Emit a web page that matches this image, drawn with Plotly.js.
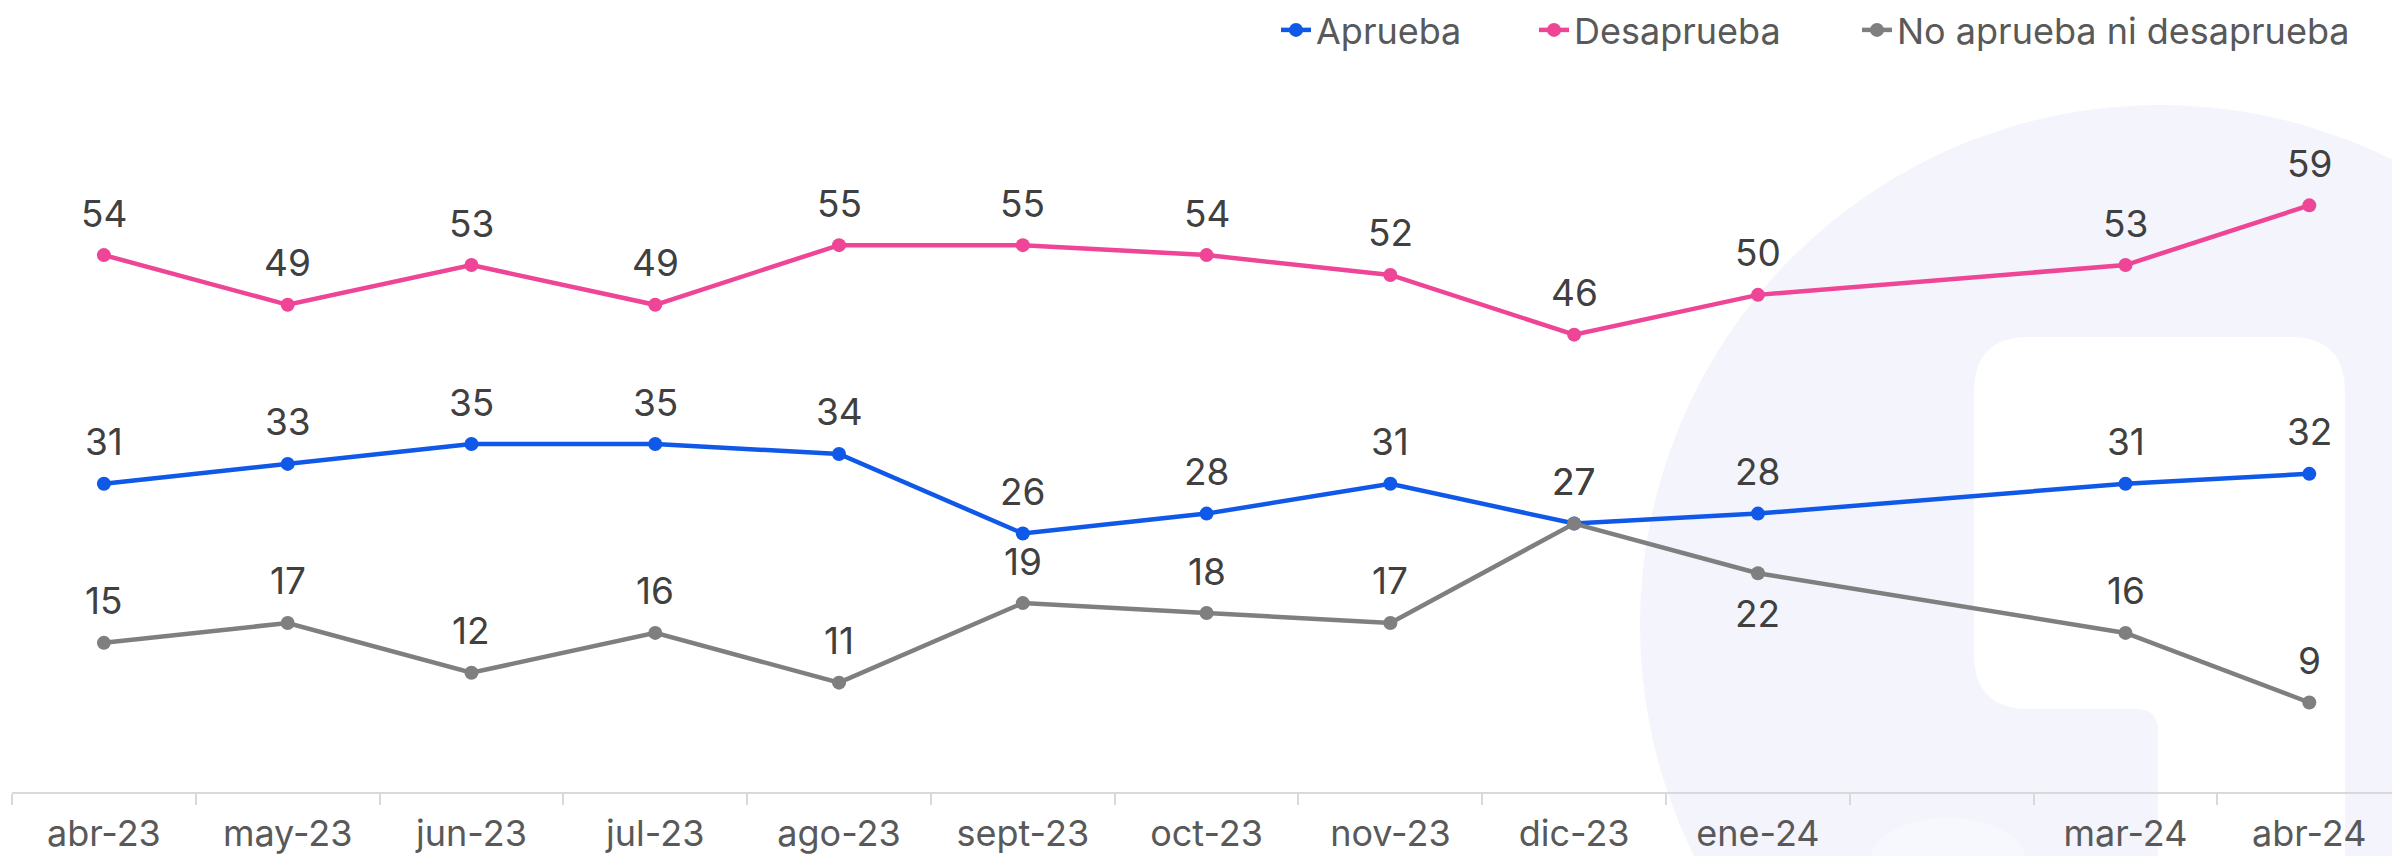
<!DOCTYPE html>
<html>
<head>
<meta charset="utf-8">
<script src="https://cdn.plot.ly/plotly-3.0.1.min.js"></script>
<style>html,body{margin:0;padding:0;background:#fff;}#chart{width:2392px;height:856px;}</style>
</head>
<body>
<div id="chart"></div>
<script>
// ---- data ----
const months = ["abr-23","may-23","jun-23","jul-23","ago-23","sept-23","oct-23","nov-23","dic-23","ene-24","feb-24","mar-24","abr-24"];
const tickLabels = ["abr-23","may-23","jun-23","jul-23","ago-23","sept-23","oct-23","nov-23","dic-23","ene-24","","mar-24","abr-24"];
const aprueba = [31,33,35,35,34,26,28,31,27,28,null,31,32];
const desaprueba = [54,49,53,49,55,55,54,52,46,50,null,53,59];
const neutral = [15,17,12,16,11,19,18,17,27,22,null,16,9];
const seriesNames = ["Aprueba","Desaprueba","No aprueba ni desaprueba"];
const colors = ["#0f58e8","#ee4596","#7f7f7f"];

// ---- layout helpers (pixels -> paper) ----
const W = 2392, H = 856, ML = 12, MR = 0, MT = 96, MB = 64;
const PW = W - ML - MR, PH = H - MT - MB;
const px = v => (v - ML) / PW;
const py = v => (H - MB - v) / PH;

const FONT = "Inter, 'Open Sans', sans-serif";
const LABEL = {family: FONT, size: 37, color: "#404040"};

function trace(name, y, color, legendId){
  return {
    type: "scatter", mode: "lines+markers", name: name,
    x: months, y: y, connectgaps: true, legend: legendId,
    line: {color: color, width: 4.5},
    marker: {color: color, size: 14},
    cliponaxis: false, hoverinfo: "skip"
  };
}

const data = [
  trace(seriesNames[0], aprueba, colors[0], "legend"),
  trace(seriesNames[1], desaprueba, colors[1], "legend2"),
  trace(seriesNames[2], neutral, colors[2], "legend3")
];

// data labels as annotations anchored to the data values
const annotations = [];
[[aprueba, false], [desaprueba, false], [neutral, true]].forEach(([arr, isNeutral]) => {
  arr.forEach((v, i) => {
    if (v === null) return;
    const below = isNeutral && months[i] === "ene-24";
    annotations.push({
      x: months[i], y: v, xref: "x", yref: "y", text: String(v), showarrow: false,
      yanchor: "middle", xanchor: "center", yshift: below ? -40 : 42, font: LABEL
    });
  });
});

// watermark white path
const R = 55, rr = 22;
const P = (x,y) => px(x).toFixed(5) + "," + py(y).toFixed(5);
const whitePath =
  "M" + P(1974+R,337) + " L" + P(2345-R,337) + " Q" + P(2345,337) + " " + P(2345,337+R) +
  " L" + P(2345,900) + " L" + P(2158,900) + " L" + P(2158,709+rr) +
  " Q" + P(2158,709) + " " + P(2158-rr,709) + " L" + P(1974+R,709) +
  " Q" + P(1974,709) + " " + P(1974,709-R) + " L" + P(1974,337+R) +
  " Q" + P(1974,337) + " " + P(1974+R,337) + " Z";

const LEG = (xpx) => ({
  orientation: "h", x: px(xpx), xanchor: "left", y: py(30), yanchor: "middle",
  font: {family: FONT, size: 36, color: "#595959"}, bgcolor: "rgba(0,0,0,0)", borderwidth: 0
});

const layout = {
  width: W, height: H,
  margin: {l: ML, r: MR, t: MT, b: MB},
  paper_bgcolor: "#ffffff", plot_bgcolor: "rgba(0,0,0,0)",
  showlegend: true,
  legend: LEG(1318 - 42),
  legend2: LEG(1576 - 42),
  legend3: LEG(1899 - 42),
  xaxis: {
    type: "category", categoryorder: "array", categoryarray: months,
    range: [-0.5, 12.45], tickmode: "array", tickvals: months, ticktext: tickLabels,
    tickson: "boundaries", ticks: "outside", ticklen: 11, tickwidth: 2, tickcolor: "#d9d9d9",
    ticklabelstandoff: 9,
    showline: true, linecolor: "#d9d9d9", linewidth: 2, showgrid: false, zeroline: false,
    tickfont: {family: FONT, size: 36, color: "#595959"}, fixedrange: true
  },
  yaxis: {
    range: [0, 70], visible: false, showgrid: false, zeroline: false, fixedrange: true
  },
  annotations: annotations,
  shapes: [
    {type: "circle", xref: "paper", yref: "paper", layer: "below",
     x0: px(1640), x1: px(2680), y0: py(1145), y1: py(105),
     fillcolor: "#f3f4fc", line: {width: 0}},
    {type: "path", xref: "paper", yref: "paper", layer: "below",
     path: whitePath, fillcolor: "#ffffff", line: {width: 0}},
    {type: "circle", xref: "paper", yref: "paper", layer: "below",
     x0: px(1871), x1: px(2025), y0: py(900), y1: py(818),
     fillcolor: "#f7f8fd", line: {width: 0}}
  ]
};

Plotly.newPlot("chart", data, layout, {displayModeBar: false, staticPlot: true});
</script>
</body>
</html>
